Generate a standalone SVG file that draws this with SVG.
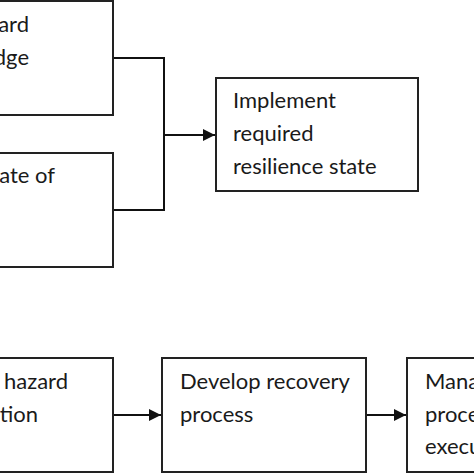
<svg xmlns="http://www.w3.org/2000/svg" width="474" height="474" viewBox="0 0 474 474">
<defs>
<style>
.box{fill:#fff;stroke:#222;stroke-width:2}
.lbl{font-family:Lato,"Liberation Sans",sans-serif;font-size:22px;fill:#1a1a1a}
.con{fill:none;stroke:#111;stroke-width:2}
</style>
<marker id="ah" viewBox="0 0 12 12" markerWidth="12" markerHeight="12" refX="12" refY="6" orient="auto" markerUnits="userSpaceOnUse">
<path d="M0,0 L12,6 L0,12 Z" fill="#111"/>
</marker>
</defs>
<rect width="474" height="474" fill="#fff"/>
<g id="connectors">
<path class="con" d="M113,58 H164 V210 H113"/>
<path class="con" d="M164,135 H215" marker-end="url(#ah)"/>
<path class="con" d="M113,415 H161" marker-end="url(#ah)"/>
<path class="con" d="M366,415 H406" marker-end="url(#ah)"/>
</g>
<g id="node-hazard-knowledge">
<rect class="box" x="-20" y="1" width="133" height="114"/>
<text class="lbl" x="29" y="32" text-anchor="end">ard</text>
<text class="lbl" x="29" y="64.5" text-anchor="end">dge</text>
</g>
<g id="node-state-of">
<rect class="box" x="-20" y="153" width="133" height="114"/>
<text class="lbl" x="55" y="183" text-anchor="end">ate of</text>
</g>
<g id="node-implement">
<rect class="box" x="216" y="78" width="202" height="113"/>
<text class="lbl" x="233" y="108">Implement</text>
<text class="lbl" x="233" y="141">required</text>
<text class="lbl" x="233" y="174">resilience state</text>
</g>
<g id="node-hazard">
<rect class="box" x="-20" y="358" width="133" height="114"/>
<text class="lbl" x="68" y="389" text-anchor="end">hazard</text>
<text class="lbl" x="38" y="421.5" text-anchor="end">tion</text>
</g>
<g id="node-develop">
<rect class="box" x="162" y="358" width="204" height="114"/>
<text class="lbl" x="180" y="389">Develop recovery</text>
<text class="lbl" x="180" y="421.5">process</text>
</g>
<g id="node-manage">
<rect class="box" x="407" y="358" width="90" height="114"/>
<text class="lbl" x="425" y="389">Mana</text>
<text class="lbl" x="425" y="421.5">proce</text>
<text class="lbl" x="425" y="454">execu</text>
</g>
</svg>
